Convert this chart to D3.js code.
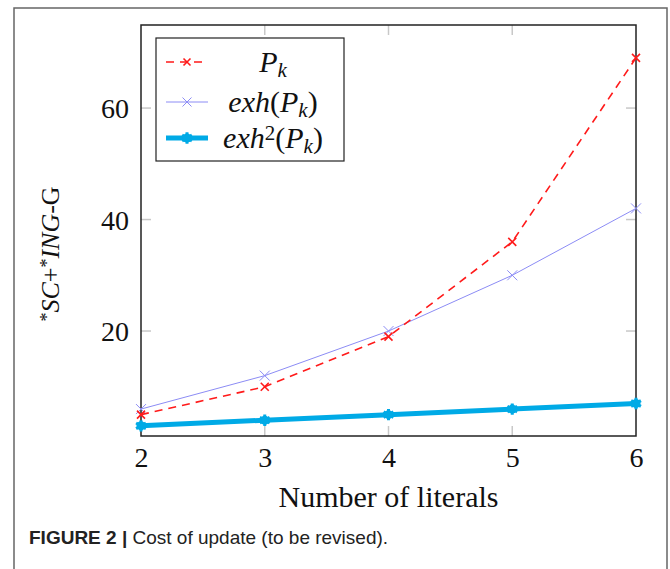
<!DOCTYPE html>
<html>
<head>
<meta charset="utf-8">
<script src="https://cdn.jsdelivr.net/npm/d3@7/dist/d3.min.js"></script>
<style>
  html, body { margin: 0; padding: 0; background: #fff; }
  svg { display: block; }
</style>
</head>
<body>
<svg id="chart" width="670" height="569"></svg>
<script>
// ---- data ----
const literals = [2, 3, 4, 5, 6];
const seriesPk = [5, 10, 19, 36, 69];
const seriesExh = [6, 12, 20, 30, 42];
const seriesExh2 = [3, 4, 5, 6, 7];
const yTicks = [20, 40, 60];
const xTicks = [2, 3, 4, 5, 6];

const svg = d3.select("#chart");
const serif = "'Liberation Serif', 'DejaVu Serif', serif";

// outer frame
svg.append("path")
  .attr("d", "M14,575 L14,8 L667,8 L667,575")
  .attr("fill", "none").attr("stroke", "#666").attr("stroke-width", 1.5);

const plot = { left: 141, right: 636, top: 25, bottom: 436 };
const x = d3.scaleLinear().domain([2, 6]).range([plot.left, plot.right]);
const y = d3.scaleLinear().domain([1.17, 74.9]).range([plot.bottom, plot.top]);

// inner light-gray ticks (both sides)
const tickLen = 10;
const gTicks = svg.append("g").attr("stroke", "#c8c8c8").attr("stroke-width", 1.5);
yTicks.forEach(v => {
  gTicks.append("line").attr("x1", plot.left).attr("x2", plot.left + tickLen).attr("y1", y(v)).attr("y2", y(v));
  gTicks.append("line").attr("x1", plot.right).attr("x2", plot.right - tickLen).attr("y1", y(v)).attr("y2", y(v));
});
xTicks.slice(1, -1).forEach(v => {
  gTicks.append("line").attr("x1", x(v)).attr("x2", x(v)).attr("y1", plot.bottom).attr("y2", plot.bottom - tickLen);
  gTicks.append("line").attr("x1", x(v)).attr("x2", x(v)).attr("y1", plot.top).attr("y2", plot.top + tickLen);
});

// axes tick labels via d3 axes
const xAxis = d3.axisBottom(x).tickValues(xTicks).tickSize(0).tickPadding(0).tickFormat(d3.format("d"));
const gx = svg.append("g").attr("transform", `translate(0,${plot.bottom})`).call(xAxis);
gx.select(".domain").remove();
gx.selectAll("text").attr("font-family", serif).attr("font-size", 28).attr("fill", "#111")
  .attr("dy", null).attr("y", 31);

const yAxis = d3.axisLeft(y).tickValues(yTicks).tickSize(0).tickPadding(0).tickFormat(d3.format("d"));
const gy = svg.append("g").attr("transform", `translate(${plot.left},0)`).call(yAxis);
gy.select(".domain").remove();
gy.selectAll("text").attr("font-family", serif).attr("font-size", 28).attr("fill", "#111")
  .attr("x", -12).attr("dy", "0.34em");

// plot frame
svg.append("rect")
  .attr("x", plot.left).attr("y", plot.top)
  .attr("width", plot.right - plot.left).attr("height", plot.bottom - plot.top)
  .attr("fill", "none").attr("stroke", "#222").attr("stroke-width", 1.5);

const line = d3.line().x((d, i) => x(literals[i])).y(d => y(d));

function xMark(g, cx, cy, s, color, w) {
  g.append("path")
    .attr("d", `M${cx - s},${cy - s}L${cx + s},${cy + s}M${cx - s},${cy + s}L${cx + s},${cy - s}`)
    .attr("stroke", color).attr("stroke-width", w).attr("fill", "none");
}
function starMark(g, cx, cy, color) {
  g.append("circle").attr("cx", cx).attr("cy", cy).attr("r", 4.5).attr("fill", color);
  g.append("path").attr("transform", `translate(${cx},${cy})`)
    .attr("d", d3.symbol().type(d3.symbolAsterisk || d3.symbolStar).size(90)())
    .attr("fill", color).attr("stroke", color).attr("stroke-width", 3);
}

const cBlue = "#00aae6";
const cRed = "#ff1a1a";
const cPurple = "#8c8cf5";

// exh^2(Pk)
const gB = svg.append("g");
gB.append("path").datum(seriesExh2).attr("d", line)
  .attr("fill", "none").attr("stroke", cBlue).attr("stroke-width", 5);
seriesExh2.forEach((v, i) => starMark(gB, x(literals[i]), y(v), cBlue));

// exh(Pk)
const gP = svg.append("g");
gP.append("path").datum(seriesExh).attr("d", line)
  .attr("fill", "none").attr("stroke", cPurple).attr("stroke-width", 1);
seriesExh.forEach((v, i) => xMark(gP, x(literals[i]), y(v), 5, cPurple, 1));

// Pk
const gR = svg.append("g");
gR.append("path").datum(seriesPk).attr("d", line)
  .attr("fill", "none").attr("stroke", cRed).attr("stroke-width", 1.6)
  .attr("stroke-dasharray", "8,6");
seriesPk.forEach((v, i) => xMark(gR, x(literals[i]), y(v), 4, cRed, 1.6));

// legend
const lg = svg.append("g");
lg.append("rect").attr("x", 156).attr("y", 38).attr("width", 188).attr("height", 123)
  .attr("fill", "#fff").attr("stroke", "#222").attr("stroke-width", 1.2);
const rows = [62, 102, 138];
lg.append("line").attr("x1", 166).attr("x2", 208).attr("y1", rows[0]).attr("y2", rows[0])
  .attr("stroke", cRed).attr("stroke-width", 1.6).attr("stroke-dasharray", "8,6");
xMark(lg, 187, rows[0], 3.5, cRed, 1.6);
lg.append("line").attr("x1", 166).attr("x2", 208).attr("y1", rows[1]).attr("y2", rows[1])
  .attr("stroke", cPurple).attr("stroke-width", 1);
xMark(lg, 187, rows[1], 4.5, cPurple, 1);
lg.append("line").attr("x1", 166).attr("x2", 208).attr("y1", rows[2]).attr("y2", rows[2])
  .attr("stroke", cBlue).attr("stroke-width", 5);
starMark(lg, 187, rows[2], cBlue);

function legendText(yy, parts) {
  const t = lg.append("text").attr("x", 273).attr("y", yy + 10).attr("text-anchor", "middle")
    .attr("font-family", serif).attr("font-size", 30).attr("fill", "#111");
  parts.forEach(p => {
    const ts = t.append("tspan").text(p.t);
    if (p.it) ts.attr("font-style", "italic");
    if (p.sub) ts.attr("font-size", 21).attr("baseline-shift", "-25%");
    if (p.sup) ts.attr("font-size", 21).attr("baseline-shift", "40%");
  });
}
legendText(rows[0], [{ t: "P", it: 1 }, { t: "k", it: 1, sub: 1 }]);
legendText(rows[1], [{ t: "exh", it: 1 }, { t: "(" }, { t: "P", it: 1 }, { t: "k", it: 1, sub: 1 }, { t: ")" }]);
legendText(rows[2], [{ t: "exh", it: 1 }, { t: "2", sup: 1 }, { t: "(" }, { t: "P", it: 1 }, { t: "k", it: 1, sub: 1 }, { t: ")" }]);

// y label
const yl = svg.append("text").attr("transform", "translate(59,254) rotate(-90)")
  .attr("text-anchor", "middle").attr("font-family", serif).attr("font-size", 26).attr("fill", "#111");
[{ t: "*", sup: 1 }, { t: "SC", it: 1 }, { t: "+" }, { t: "*", sup: 1 }, { t: "ING", it: 1 }, { t: "-G" }].forEach(p => {
  const ts = yl.append("tspan").text(p.t);
  if (p.it) ts.attr("font-style", "italic");
  if (p.sup) ts.attr("font-size", 18).attr("baseline-shift", "35%");
});

// x label
svg.append("text").attr("x", (plot.left + plot.right) / 2).attr("y", 507)
  .attr("text-anchor", "middle").attr("font-family", serif).attr("font-size", 30).attr("fill", "#111")
  .text("Number of literals");

// caption
const cap = svg.append("text").attr("x", 29).attr("y", 544)
  .attr("font-family", "'Liberation Sans', Arial, sans-serif")
  .attr("font-size", 19).attr("fill", "#222");
cap.append("tspan").attr("font-weight", "bold").text("FIGURE 2 | ");
cap.append("tspan").text("Cost of update (to be revised).");
</script>
</body>
</html>
